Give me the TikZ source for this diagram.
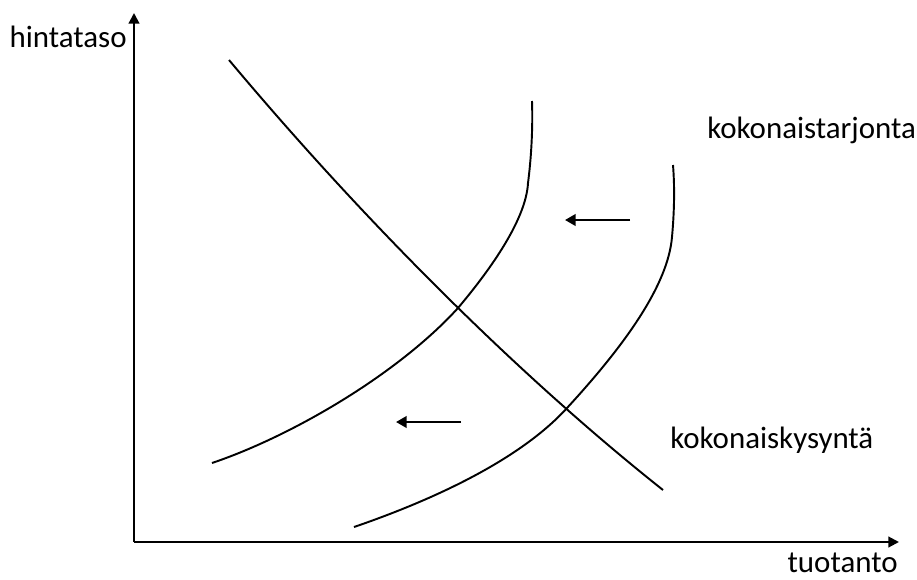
\documentclass[tikz,border=0pt]{standalone}
\usepackage{fontspec}
\setmainfont{Carlito}
\usetikzlibrary{arrows.meta}

\tikzset{
  axis/.style={line width=1.2pt, -{Triangle[length=6pt,width=6pt]}},
  curve/.style={line width=1.1pt},
  shiftarrow/.style={line width=1.3pt, -{Triangle[length=6pt,width=6.5pt]}},
  lbl/.style={font=\fontsize{17.6}{20}\selectfont, inner sep=0pt}
}

\begin{document}
\begin{tikzpicture}[x=0.02cm, y=-0.02cm]
    \useasboundingbox (0,0) rectangle (917,579);

    % Axes
    \coordinate (O) at (134,542);
    \coordinate (ytop) at (134,13);
    \coordinate (xend) at (899,542);
    \draw[axis] (O) -- (ytop);
    \draw[axis] (O) -- (xend);
    \node[lbl, anchor=base east] (ylab) at (127,47) {hintataso};
    \node[lbl, anchor=base east] (xlab) at (898,572) {tuotanto};

    % Aggregate demand
    \draw[curve] (229,60) .. controls (369,227) and (523,379) .. (663,490);

    % Aggregate supply (new and old)
    \draw[curve] (212,463) .. controls (292,436) and (398,374) .. (458,308)
        .. controls (485,276) and (526,222) .. (528,183)
        .. controls (531,160) and (533,130) .. (532,101);
    \draw[curve] (354,527) .. controls (424,503) and (517,463) .. (567,408)
        .. controls (625,345) and (668,285) .. (672,237)
        .. controls (674,215) and (675,190) .. (673,165);

    % Labels
    \node[lbl, anchor=base west] (aslab) at (707,138) {kokonaistarjonta};
    \node[lbl, anchor=base west] (adlab) at (670,448) {kokonaiskysyntä};

    % Shift arrows
    \coordinate (s1a) at (630,220);
    \coordinate (s1b) at (565,220);
    \coordinate (s2a) at (461,422);
    \coordinate (s2b) at (396,422);
    \draw[shiftarrow] (s1a) -- (s1b);
    \draw[shiftarrow] (s2a) -- (s2b);
\end{tikzpicture}
\end{document}
